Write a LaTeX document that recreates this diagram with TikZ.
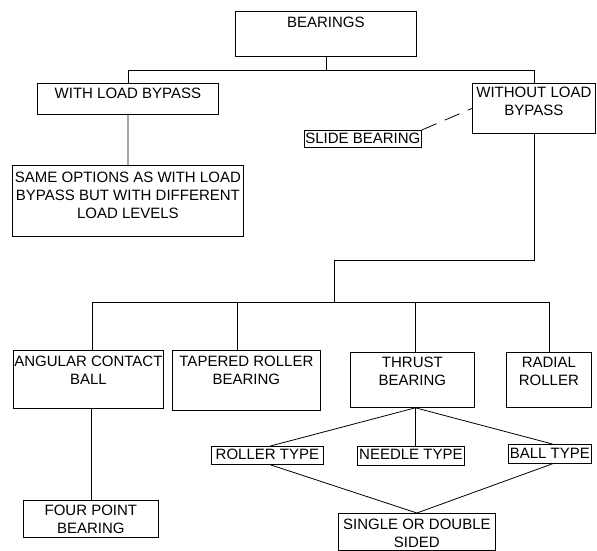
\documentclass[tikz,border=0pt]{standalone}
\usepackage{fontspec}
\setmainfont{Liberation Sans}
% box text: width, height, top padding, lines separated by \cr
\newcommand{\bxt}[4]{\vbox to #2bp{\hsize=#1bp\kern#3bp
  \tabskip=0pt plus 1fil\halign to\hsize{\hfil##\hfil\cr#4\crcr}\vss}}
\begin{document}
\begin{tikzpicture}[x=1bp,y=-1bp,
  bx/.style={draw,inner sep=0pt,anchor=north west,line width=0.8bp,
    font=\fontsize{15bp}{18bp}\selectfont},
  link/.style={line width=0.8bp},
  dashlink/.style={line width=0.8bp,dash pattern=on 16bp off 9bp}]
\useasboundingbox (0,0) rectangle (597,551);

% top level
\node[bx] (bear)   at (235,11)  {\bxt{181}{45}{6}{BEARINGS}};
\node[bx] (wlb)    at (37,83)   {\bxt{181}{31}{5}{WITH LOAD BYPASS}};
\node[bx] (wolb)   at (472,83)  {\bxt{123}{50}{4}{WITHOUT LOAD\cr BYPASS}};
\node[bx] (same)   at (12,165)  {\bxt{231}{71}{7}{SAME OPTIONS AS WITH LOAD\cr BYPASS BUT WITH DIFFERENT\cr LOAD LEVELS}};
\node[bx] (slide)  at (304,130) {\bxt{117}{17}{3}{SLIDE BEARING}};

% bearing types
\node[bx] (ang)    at (13,350)  {\bxt{150}{58}{6}{ANGULAR CONTACT\cr BALL}};
\node[bx] (tap)    at (172,350) {\bxt{148}{60}{6}{TAPERED ROLLER\cr BEARING}};
\node[bx] (thrust) at (350,352) {\bxt{124}{55}{5}{THRUST\cr BEARING}};
\node[bx] (radial) at (506,352) {\bxt{85}{55}{5}{RADIAL\cr ROLLER}};

% sub-types
\node[bx] (four)   at (23,500)  {\bxt{135}{37}{5}{FOUR POINT\cr BEARING}};
\node[bx] (roller) at (211,446) {\bxt{112}{18}{3}{ROLLER TYPE}};
\node[bx] (needle) at (357,446) {\bxt{107}{19}{3}{NEEDLE TYPE}};
\node[bx] (ball)   at (508,444) {\bxt{83}{19}{4}{BALL TYPE}};
\node[bx] (single) at (338,513) {\bxt{157}{37}{6}{SINGLE OR DOUBLE\cr SIDED}};

% bus levels
\coordinate (bus1) at (0,70);
\coordinate (elbow) at (334,260);
\coordinate (bus3) at (0,302);

% BEARINGS split
\draw[link] (bear.south) -- (bear.south |- bus1);
\draw[link] (wlb.north) |- (bus1 -| wolb.north) -- (wolb.north);
\draw[link] (wlb.south) -- (same.north);
\draw[dashlink] (slide.north east) -- (wolb.west);

% WITHOUT LOAD BYPASS split
\coordinate (angtop) at ([xshift=4bp]ang.north);
\coordinate (taptop) at ([xshift=-9bp]tap.north);
\coordinate (thrtop) at ([xshift=3bp]thrust.north);
\draw[link] (wolb.south) |- (elbow) -- (elbow |- bus3);
\draw[link] (angtop) |- (bus3 -| radial.north) -- (radial.north);
\draw[link] (taptop) -- (taptop |- bus3);
\draw[link] (thrtop) -- (thrtop |- bus3);
\draw[link] (four.north) -- (four.north |- ang.south);

% thrust bearing diamond
\coordinate (thrbot) at ([xshift=3bp]thrust.south);
\draw[link] (thrbot) -- ([xshift=3bp]roller.north);
\draw[link] (thrbot) -- ([xshift=4.5bp]needle.north);
\draw[link] (thrbot) -- ([xshift=2.5bp]ball.north);
\draw[link] ([xshift=3bp]roller.south) -- (single.north);
\draw[link] ([xshift=2.5bp]ball.south) -- (single.north);
\end{tikzpicture}
\end{document}
